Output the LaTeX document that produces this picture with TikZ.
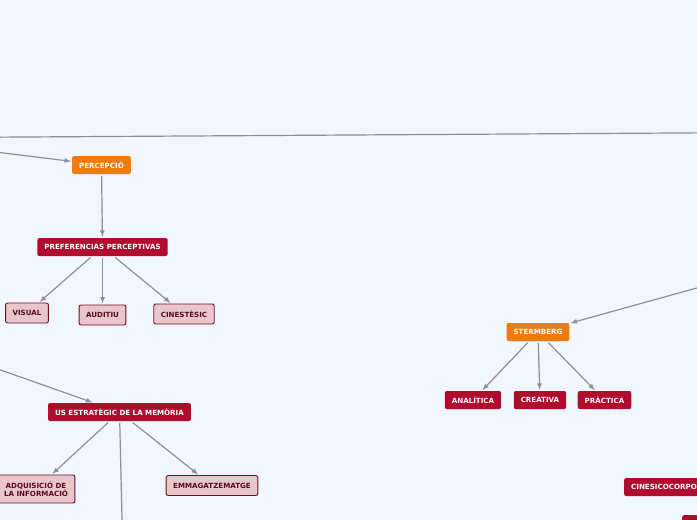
\documentclass[tikz,border=0pt]{standalone}
\usepackage{fontspec}
\setmainfont{DejaVu Sans}
\usetikzlibrary{positioning,calc}
\definecolor{canvasBg}{HTML}{F2F6FE}
\definecolor{topicOrange}{HTML}{EF7B10}
\definecolor{topicRed}{HTML}{B10B2D}
\definecolor{leafPink}{HTML}{E8C6CB}
\definecolor{leafEdge}{HTML}{6E1022}
\definecolor{leafText}{HTML}{5A0A1A}
\definecolor{linkGrey}{HTML}{8D9097}

\begin{document}
\begin{tikzpicture}[
    x=1pt, y=-1pt,
    every node/.style  = {font=\fontsize{7.1}{8.4}\selectfont\bfseries, align=center},
    box/.style         = {rounded corners=2pt, inner xsep=7pt, inner ysep=0pt,
                          minimum height=18pt},
    main/.style        = {box, fill=topicOrange, text=white},
    sub/.style         = {box, fill=topicRed, text=white},
    leaf/.style        = {box, fill=leafPink, draw=leafEdge, line width=0.9pt,
                          text=leafText, minimum height=20pt},
    arrow/.style       = {-latex, draw=linkGrey, line width=1.2pt,
                          shorten <=2pt, shorten >=1pt},
    link/.style        = {draw=linkGrey, line width=1.2pt},
  ]

  %% canvas (the view is a crop of a larger map)
  \fill[canvasBg] (0,0) rectangle (697,520);
  \useasboundingbox (0,0) rectangle (697,520);
  \clip (0,0) rectangle (697,520);

  %% off-view ends of incoming links
  \coordinate (farL)  at (-300,139);
  \coordinate (farR)  at (1000,131);
  \coordinate (inP)   at (-70,144);
  \coordinate (inU)   at (-90,338);
  \coordinate (inS)   at (823,253);
  \coordinate (inC)   at (745,430);
  \coordinate (downU) at (123,560);

  %% left branch: perception
  \node[main] (perc) at (101.5,165) {PERCEPCIÓ};
  \node[sub]  (pref) at (102.5,247) {PREFERENCIAS PERCEPTIVAS};
  \node[leaf] (visual)   at ( 27,313) {VISUAL};
  \node[leaf] (auditiu)  at (102.5,315) {AUDITIU};
  \node[leaf] (cinest)   at (184,314) {CINESTÈSIC};

  %% left branch: memory
  \node[leaf, minimum height=28pt] (adqui) at (36,489) {ADQUISICIÓ DE\\LA INFORMACIÓ};
  \node[sub]  (memo) at (119.5,412) {US ESTRATÈGIC DE LA MEMÒRIA};
  \node[leaf] (emmag) at (212,485.5) {EMMAGATZEMATGE};

  %% right branch: Sternberg
  \node[main] (sterm)  at (538,332) {STERMBERG};
  \node[sub]  (anali)  at (473,400) {ANALÍTICA};
  \node[sub]  (creat)  at (540,400) {CREATIVA};
  \node[sub]  (pract)  at (604.5,400) {PRÀCTICA};

  %% right branch: lower part, cut by the view
  \node[sub, anchor=west] (cinecorp) at (624,487) {CINESICOCORPORAL};
  \node[sub, anchor=north west, minimum width=40pt] (nextbox) at (682,515) {};

  %% long spine across the top
  \draw[link] (farL) -- (farR);

  %% incoming links
  \draw[arrow] (inP) -- (perc);
  \draw[arrow] (inU) -- (memo);
  \draw[arrow] (inS) -- (sterm);
  \draw[arrow] (inC) -- (cinecorp.north east);

  %% children
  \draw[arrow] (perc) -- (pref);
  \draw[arrow] (pref) -- (visual);
  \draw[arrow] (pref) -- (auditiu);
  \draw[arrow] (pref) -- (cinest);

  \draw[arrow] (memo) -- (adqui);
  \draw[arrow] (memo) -- (emmag);
  \draw[link, shorten <=2pt] (memo) -- (downU);

  \draw[arrow] (sterm) -- (anali);
  \draw[arrow] (sterm) -- (creat);
  \draw[arrow] (sterm) -- (pract);

\end{tikzpicture}
\end{document}
